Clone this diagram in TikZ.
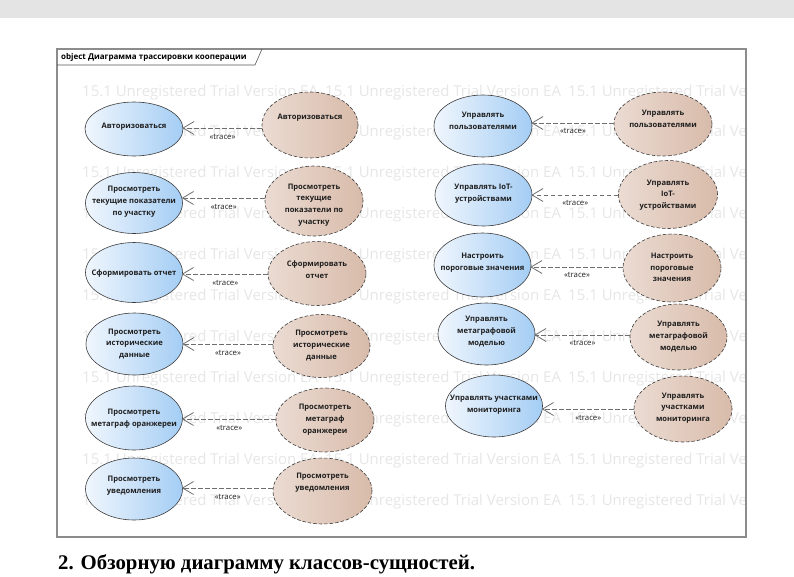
\documentclass[tikz,border=0pt]{standalone}
\usepackage{fontspec}
\newfontfamily\eafont{Open Sans}
\newfontfamily\docfont{Liberation Serif}
\usetikzlibrary{arrows.meta,shapes.geometric}
\definecolor{topbar}{HTML}{E4E4E4}
\definecolor{blueL}{HTML}{F0F6FD}
\definecolor{blueR}{HTML}{A4CDF4}
\definecolor{brownL}{HTML}{EBDBD2}
\definecolor{brownR}{HTML}{D8BBAA}
\definecolor{ucline}{HTML}{3C3C3C}
\definecolor{traceline}{HTML}{6E6E6E}
\definecolor{txt}{HTML}{1E1E1E}
\definecolor{wmcol}{HTML}{E6E6E6}
\definecolor{framecol}{HTML}{8C8C8C}
\definecolor{tabcol}{HTML}{555555}
\begin{document}
\begin{tikzpicture}[x=1pt,y=-1pt,
  usecase/.style={ellipse, draw=ucline, line width=0.6pt, left color=blueL, right color=blueR, inner sep=0pt},
  coop/.style={ellipse, draw=ucline, line width=0.6pt, dash pattern=on 3.5pt off 2pt, left color=brownL, right color=brownR, inner sep=0pt},
  uctext/.style={font=\eafont\bfseries\fontsize{7.6}{11.8}\selectfont, align=center, text=txt, inner sep=0pt},
  trace/.style={draw=traceline, line width=0.8pt, dash pattern=on 4.5pt off 2.5pt, -{Straight Barb[length=11pt,width=13pt,line width=0.8pt]}, shorten >=-1pt},
  tracelbl/.style={font=\eafont\fontsize{7.8}{9}\selectfont, text=txt, inner sep=0pt},
  wm/.style={font=\eafont\fontsize{15}{18}\selectfont, text=wmcol, inner sep=0pt, anchor=base west},
  tablbl/.style={font=\eafont\bfseries\fontsize{8}{9}\selectfont, text=black, inner sep=0pt, anchor=west},
  doclbl/.style={font=\docfont\bfseries\fontsize{20.8}{24}\selectfont, text=black, inner sep=0pt, anchor=base west}
]
\useasboundingbox (0,0) rectangle (794,576);
\fill[topbar] (0,0) rectangle (794,18);

% watermark
\begin{scope}
\clip (58,66) rectangle (745,536);
\foreach \r in {0,...,10}{
  \foreach \s in {0,1,2}{
    \node[wm] (wm-\r-\s) at (82+243*\s, 96+40.9*\r) {15.1 Unregistered Trial Version EA};
  }
}
\end{scope}

% frame
\draw[framecol, line width=1.2pt] (57,49) rectangle (746,537);
\draw[tabcol, line width=0.6pt] (57,65) -- (255,65) -- (262,49);
\node[tablbl] (tab) at (61,57) {object Диаграмма трассировки кооперации};

% left column: use cases
\node[usecase, minimum width=98pt, minimum height=54pt] (l1) at (134,129) {};
\node[usecase, minimum width=97pt, minimum height=61pt] (l2) at (134,203) {};
\node[usecase, minimum width=97pt, minimum height=60pt] (l3) at (134,272.5) {};
\node[usecase, minimum width=97pt, minimum height=62pt] (l4) at (134.5,344) {};
\node[usecase, minimum width=97pt, minimum height=64pt] (l5) at (134,418) {};
\node[usecase, minimum width=97pt, minimum height=62pt] (l6) at (134,489) {};
\node[uctext] (l1t) at (134,127) {Авторизоваться};
\node[uctext] (l2t) at (134,201.5) {Просмотреть\\текущие показатели\\по участку};
\node[uctext] (l3t) at (134,274) {Сформировать отчет};
\node[uctext] (l4t) at (134.5,344) {Просмотреть\\исторические\\данные};
\node[uctext] (l5t) at (134,418.5) {Просмотреть\\метаграф оранжереи};
\node[uctext] (l6t) at (134,486) {Просмотреть\\уведомления};

% left column: collaborations
\node[coop, minimum width=96pt, minimum height=66pt] (b1) at (310,125) {};
\node[coop, minimum width=98pt, minimum height=70pt] (b2) at (314,201) {};
\node[coop, minimum width=98pt, minimum height=64pt] (b3) at (317,273.5) {};
\node[coop, minimum width=97pt, minimum height=63pt] (b4) at (321.5,346) {};
\node[coop, minimum width=98pt, minimum height=64pt] (b5) at (325,420) {};
\node[coop, minimum width=99pt, minimum height=66pt] (b6) at (322.5,491) {};
\node[uctext] (b1t) at (310,118) {Авторизоваться};
\node[uctext] (b2t) at (314,205) {Просмотреть\\текущие\\показатели по\\участку};
\node[uctext] (b3t) at (317,269.5) {Сформировать\\отчет};
\node[uctext] (b4t) at (321.5,345.5) {Просмотреть\\исторические\\данные};
\node[uctext] (b5t) at (325,419.5) {Просмотреть\\метаграф\\оранжереи};
\node[uctext] (b6t) at (322.5,482.5) {Просмотреть\\уведомления};

% right column: use cases
\node[usecase, minimum width=98pt, minimum height=62pt] (r1) at (483,126) {};
\node[usecase, minimum width=97pt, minimum height=62pt] (r2) at (483.5,195) {};
\node[usecase, minimum width=97pt, minimum height=64pt] (r3) at (482.5,265) {};
\node[usecase, minimum width=97pt, minimum height=62pt] (r4) at (486.5,334) {};
\node[usecase, minimum width=97pt, minimum height=62pt] (r5) at (494,406) {};
\node[uctext] (r1t) at (483,121) {Управлять\\пользователями};
\node[uctext] (r2t) at (483.5,194) {Управлять IoT-\\устройствами};
\node[uctext] (r3t) at (482.5,263) {Настроить\\пороговые значения};
\node[uctext] (r4t) at (486.5,331.5) {Управлять\\метаграфовой\\моделью};
\node[uctext] (r5t) at (494,405) {Управлять участками\\мониторинга};

% right column: collaborations
\node[coop, minimum width=98pt, minimum height=64pt] (c1) at (663,124) {};
\node[coop, minimum width=99pt, minimum height=68pt] (c2) at (668,194.5) {};
\node[coop, minimum width=98pt, minimum height=68pt] (c3) at (672,268) {};
\node[coop, minimum width=97pt, minimum height=66pt] (c4) at (678.5,337) {};
\node[coop, minimum width=98pt, minimum height=66pt] (c5) at (683,409) {};
\node[uctext] (c1t) at (663,118.5) {Управлять\\пользователями};
\node[uctext] (c2t) at (668,195) {Управлять\\IoT-\\устройствами};
\node[uctext] (c3t) at (672,267.5) {Настроить\\пороговые\\значения};
\node[uctext] (c4t) at (678.5,336.5) {Управлять\\метаграфовой\\моделью};
\node[uctext] (c5t) at (683,408) {Управлять\\участками\\мониторинга};

% trace connectors
\draw[trace] ([yshift=-3pt]b1.west) -- ([yshift=-3pt]b1.west -| l1.east) node[tracelbl, midway, yshift=-9pt] (tr1) {«trace»};
\draw[trace] ([yshift=3pt]b2.west) -- ([yshift=3pt]b2.west -| l2.east) node[tracelbl, midway, yshift=-9pt] (tr2) {«trace»};
\draw[trace] ([yshift=-0.5pt]b3.west) -- ([yshift=-0.5pt]b3.west -| l3.east) node[tracelbl, midway, yshift=-9pt] (tr3) {«trace»};
\draw[trace] ([yshift=2pt]b4.west) -- ([yshift=2pt]b4.west -| l4.east) node[tracelbl, midway, yshift=-9pt] (tr4) {«trace»};
\draw[trace] ([yshift=1pt]b5.west) -- ([yshift=1pt]b5.west -| l5.east) node[tracelbl, midway, yshift=-9pt] (tr5) {«trace»};
\draw[trace] ([yshift=3pt]b6.west) -- ([yshift=3pt]b6.west -| l6.east) node[tracelbl, midway, yshift=-9pt] (tr6) {«trace»};
\draw[trace] ([yshift=1pt]c1.west) -- ([yshift=1pt]c1.west -| r1.east) node[tracelbl, midway, yshift=-8pt] (tr7) {«trace»};
\draw[trace] ([yshift=-0.5pt]c2.west) -- ([yshift=-0.5pt]c2.west -| r2.east) node[tracelbl, midway, yshift=-8pt] (tr8) {«trace»};
\draw[trace] ([yshift=1pt]c3.west) -- ([yshift=1pt]c3.west -| r3.east) node[tracelbl, midway, yshift=-8pt] (tr9) {«trace»};
\draw[trace] ([yshift=2pt]c4.west) -- ([yshift=2pt]c4.west -| r4.east) node[tracelbl, midway, yshift=-8pt] (tr10) {«trace»};
\draw[trace] (c5.west) -- (c5.west -| r5.east) node[tracelbl, midway, yshift=-9pt] (tr11) {«trace»};

% document text below
\node[doclbl] (doc) at (58,569) {2. Обзорную диаграмму классов-сущностей.};
\end{tikzpicture}
\end{document}
